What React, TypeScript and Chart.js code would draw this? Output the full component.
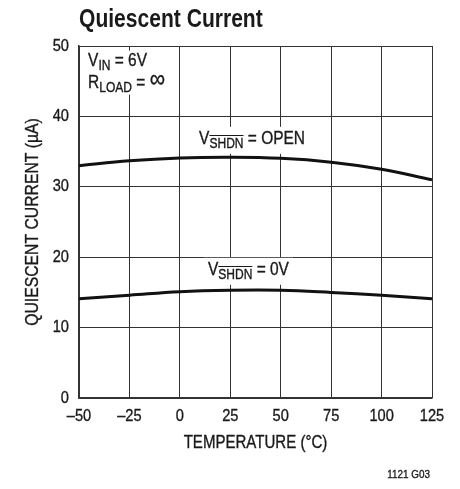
import React, { useEffect, useRef } from "react";
import { Chart, registerables } from "chart.js";

Chart.register(...registerables);

const temps = [-50, -25, 0, 25, 50, 75, 100, 125];
const openCurrent = [33.0, 33.7, 34.1, 34.2, 34.05, 33.5, 32.5, 31.0];
const zeroVCurrent = [14.1, 14.6, 15.1, 15.3, 15.3, 15.0, 14.6, 14.1];
const xTicks = [-50, -25, 0, 25, 50, 75, 100, 125];
const yTicks = [0, 10, 20, 30, 40, 50];

const FONT = "'Liberation Sans', Arial, sans-serif";
const INK = "#1a1a1a";
const SX = 0.86;

type Part = { t: string; sub?: boolean; over?: boolean; size?: number; dy?: number };

function fmtTick(v: number) {
  return v < 0 ? "–" + Math.abs(v) : String(v);
}

function drawText(
  ctx: CanvasRenderingContext2D,
  text: string,
  x: number,
  y: number,
  size: number,
  align: CanvasTextAlign,
  baseline: CanvasTextBaseline,
  bold = false,
  sx = SX
) {
  ctx.save();
  ctx.translate(x, y);
  ctx.scale(sx, 1);
  ctx.font = `${bold ? "bold " : ""}${size}px ${FONT}`;
  ctx.textAlign = align;
  ctx.textBaseline = baseline;
  ctx.fillStyle = INK;
  ctx.fillText(text, 0, 0);
  if (!bold) {
    ctx.strokeStyle = INK;
    ctx.lineWidth = 0.35;
    ctx.strokeText(text, 0, 0);
  }
  ctx.restore();
}

function partSize(p: Part, size: number, subSize: number) {
  return p.size ?? (p.sub ? subSize : size);
}

function measureRich(ctx: CanvasRenderingContext2D, parts: Part[], size: number, subSize: number) {
  let w = 0;
  for (const p of parts) {
    ctx.font = `${partSize(p, size, subSize)}px ${FONT}`;
    w += ctx.measureText(p.t).width * SX;
  }
  return w;
}

function drawRich(ctx: CanvasRenderingContext2D, parts: Part[], x: number, y: number, size: number, subSize: number) {
  let cx = x;
  for (const p of parts) {
    const s = partSize(p, size, subSize);
    const yy = (p.sub ? y + 4 : y) + (p.dy ?? 0);
    drawText(ctx, p.t, cx, yy, s, "left", "alphabetic");
    ctx.font = `${s}px ${FONT}`;
    const w = ctx.measureText(p.t).width * SX;
    if (p.over) {
      ctx.strokeStyle = INK;
      ctx.lineWidth = 1;
      ctx.beginPath();
      const oy = Math.round(yy - subSize * 0.72 - 2.5) + 0.5;
      ctx.moveTo(cx, oy);
      ctx.lineTo(cx + w, oy);
      ctx.stroke();
    }
    cx += w;
  }
}

const textPlugin = {
  id: "texts",
  afterDraw(chart: any) {
    const ctx: CanvasRenderingContext2D = chart.ctx;
    const { chartArea } = chart;
    const xs = chart.scales.x;
    const ys = chart.scales.y;
    ctx.save();

    // Title
    drawText(ctx, "Quiescent Current", chartArea.left, 27, 26, "left", "alphabetic", true, 0.81);

    // Tick labels
    for (const v of xTicks) {
      drawText(ctx, fmtTick(v), xs.getPixelForValue(v), chartArea.bottom + 18, 17, "center", "middle");
    }
    for (const v of yTicks) {
      drawText(ctx, fmtTick(v), chartArea.left - 10, ys.getPixelForValue(v), 17, "right", "middle");
    }

    // Axis titles
    drawText(ctx, "TEMPERATURE (°C)", (chartArea.left + chartArea.right) / 2, 443, 17.5, "center", "middle");
    ctx.save();
    ctx.translate(33, (chartArea.top + chartArea.bottom) / 2);
    ctx.rotate(-Math.PI / 2);
    drawText(ctx, "QUIESCENT CURRENT (µA)", 0, 0, 17.5, "center", "middle", false, 0.9);
    ctx.restore();

    // Footer
    drawText(ctx, "1121 G03", 430, 475, 11.5, "right", "middle");

    // Curve labels
    const labels: { parts: Part[]; x: number; y: number }[] = [
      { parts: [{ t: "V" }, { t: "SHDN", sub: true, over: true }, { t: " = OPEN" }], x: 35.8, y: 36.1 },
      { parts: [{ t: "V" }, { t: "SHDN", sub: true, over: true }, { t: " = 0V" }], x: 34.0, y: 17.5 },
    ];
    for (const l of labels) {
      const w = measureRich(ctx, l.parts, 18, 14);
      const cx = xs.getPixelForValue(l.x);
      const by = ys.getPixelForValue(l.y);
      ctx.fillStyle = "#fff";
      ctx.fillRect(cx - w / 2 - 4, by - 17, w + 8, 27);
      drawRich(ctx, l.parts, cx - w / 2, by, 18, 14);
    }

    // Conditions box
    const bx = xs.getPixelForValue(-45.5);
    const b1 = ys.getPixelForValue(47.2);
    const b2 = ys.getPixelForValue(44.0);
    ctx.fillStyle = "#fff";
    ctx.fillRect(bx - 3, b1 - 15, 92, 44);
    drawRich(ctx, [{ t: "V" }, { t: "IN", sub: true }, { t: " = 6V" }], bx, b1, 18, 14);
    drawRich(ctx, [{ t: "R" }, { t: "LOAD", sub: true }, { t: " = " }, { t: "∞", size: 25, dy: -1 }], bx, b2, 18, 14);

    ctx.restore();
  },
};

export default function App() {
  const ref = useRef<HTMLCanvasElement | null>(null);
  useEffect(() => {
    if (!ref.current) return;
    const chart = new Chart(ref.current, {
      type: "line",
      data: {
        datasets: [
          {
            label: "OPEN",
            data: temps.map((t, i) => ({ x: t, y: openCurrent[i] })),
            borderColor: "#111",
            borderWidth: 3,
            pointRadius: 0,
            tension: 0.4,
            fill: false,
          },
          {
            label: "0V",
            data: temps.map((t, i) => ({ x: t, y: zeroVCurrent[i] })),
            borderColor: "#111",
            borderWidth: 3,
            pointRadius: 0,
            tension: 0.4,
            fill: false,
          },
        ],
      },
      options: {
        responsive: false,
        animation: false,
        devicePixelRatio: 1,
        layout: { padding: { top: 46, right: 28, left: 0, bottom: 0 } },
        plugins: { legend: { display: false }, tooltip: { enabled: false }, title: { display: false } },
        scales: {
          x: {
            type: "linear",
            min: -50,
            max: 125,
            afterBuildTicks: (s: any) => {
              s.ticks = xTicks.map((v) => ({ value: v }));
            },
            afterFit: (s: any) => {
              s.height = 91;
            },
            ticks: { display: false, autoSkip: false },
            grid: { color: "#333", lineWidth: 1, drawTicks: false },
            border: { color: "#333", width: 1.5 },
          },
          y: {
            type: "linear",
            min: 0,
            max: 50,
            afterBuildTicks: (s: any) => {
              s.ticks = yTicks.map((v) => ({ value: v }));
            },
            afterFit: (s: any) => {
              s.width = 79;
            },
            ticks: { display: false, autoSkip: false },
            grid: { color: "#333", lineWidth: 1, drawTicks: false },
            border: { color: "#333", width: 1.5 },
          },
        },
      },
      plugins: [textPlugin],
    });
    return () => chart.destroy();
  }, []);
  return (
    <div style={{ position: "fixed", left: 0, top: 0, width: 460, height: 489, background: "#fff" }}>
      <canvas ref={ref} width={460} height={489} style={{ width: 460, height: 489, display: "block" }} />
    </div>
  );
}
